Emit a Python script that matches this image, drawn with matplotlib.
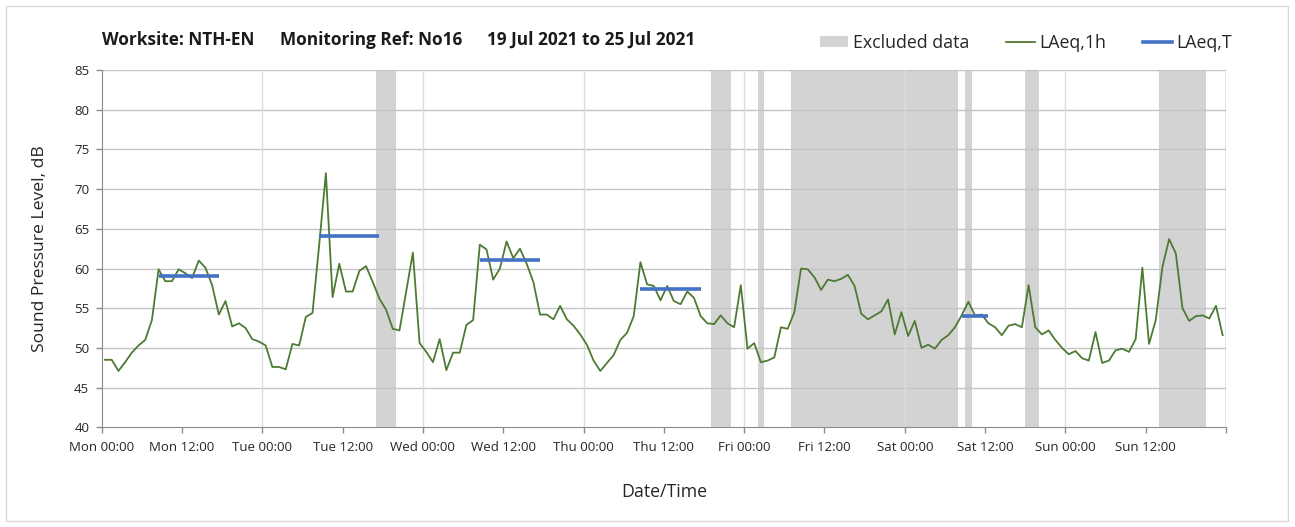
import numpy as np
import matplotlib
matplotlib.use("Agg")
import matplotlib.pyplot as plt
from matplotlib.patches import Patch, Rectangle
from matplotlib.lines import Line2D

# ---------------- data ----------------
days = ["Mon", "Tue", "Wed", "Thu", "Fri", "Sat", "Sun"]

# hourly LAeq,1h values (dB), Mon 00:00 .. Sun 23:00
laeq_1h = [
    48.5, 48.5, 47.1, 48.2, 49.4, 50.3, 51.0, 53.5, 59.9, 58.4, 58.4, 59.9,
    59.4, 58.8, 61.0, 60.1, 57.9, 54.2, 55.9, 52.7, 53.1, 52.5, 51.1, 50.8,
    50.3, 47.6, 47.6, 47.3, 50.5, 50.3, 53.9, 54.4, 63.0, 72.0, 56.4, 60.6,
    57.1, 57.1, 59.7, 60.3, 58.3, 56.2, 54.8, 52.4, 52.2, 57.1, 62.0, 50.6,
    49.5, 48.2, 51.1, 47.2, 49.4, 49.4, 52.9, 53.5, 63.0, 62.4, 58.6, 60.0,
    63.4, 61.3, 62.5, 60.6, 58.3, 54.2, 54.2, 53.6, 55.3, 53.6, 52.8, 51.7,
    50.4, 48.4, 47.1, 48.1, 49.1, 51.0, 51.9, 54.0, 60.8, 58.0, 57.8, 56.0,
    57.8, 55.9, 55.5, 57.1, 56.3, 54.0, 53.1, 53.0, 54.1, 53.1, 52.6, 57.9,
    49.9, 50.6, 48.2, 48.4, 48.8, 52.6, 52.4, 54.5, 60.0, 59.9, 58.9, 57.3,
    58.6, 58.4, 58.7, 59.2, 57.8, 54.3, 53.6, 54.1, 54.6, 56.1, 51.7, 54.5,
    51.5, 53.4, 50.0, 50.4, 49.9, 51.0, 51.6, 52.6, 54.1, 55.8, 54.1, 54.2,
    53.1, 52.6, 51.6, 52.8, 53.0, 52.6, 57.9, 52.6, 51.7, 52.2, 51.0, 50.0,
    49.2, 49.6, 48.7, 48.4, 52.0, 48.1, 48.4, 49.7, 49.9, 49.5, 51.1, 60.1,
    50.5, 53.5, 60.2, 63.7, 61.9, 55.0, 53.4, 54.0, 54.1, 53.7, 55.3, 51.6,
]

# LAeq,T periods (first hour, last hour, level)
laeq_t_first = [8, 32, 56, 80, 128]
laeq_t_last = [17, 41, 65, 89, 132]
laeq_t_level = [59.0, 64.1, 61.1, 57.4, 54.0]

# excluded data periods (start hour, end hour)
excl_start = [41, 91, 98, 103, 129, 138, 158]
excl_end = [44, 94, 99, 128, 130, 140, 165]

# ---------------- style ----------------
FONT = ["Open Sans", "DejaVu Sans"]
plt.rcParams["font.family"] = FONT
GREEN = "#4e7a33"
BLUE = "#4472c4"
GREY = "#d3d3d3"

W, H = 1295, 527
fig = plt.figure(figsize=(W / 100, H / 100), dpi=100)
fig.patch.set_facecolor("white")
fig.patches.append(Rectangle((6 / W, 6 / H), (1288 - 6) / W, (521 - 6) / H,
                             transform=fig.transFigure, fill=False,
                             edgecolor="#d9d9d9", linewidth=1.0))

L, R, T, B = 101.7, 1226, 70, 427.3
ax = fig.add_axes([L / W, 1 - B / H, (R - L) / W, (B - T) / H])

n = len(laeq_1h)
x = np.arange(n) + 0.5

for s, e in zip(excl_start, excl_end):
    ax.axvspan(s, e, color=GREY, zorder=0.3, linewidth=0)

ax.plot(x, laeq_1h, color=GREEN, linewidth=1.3, zorder=3)

for f, l, v in zip(laeq_t_first, laeq_t_last, laeq_t_level):
    ax.plot([f + 0.5, l + 0.5], [v, v], color=BLUE, linewidth=2.6,
            solid_capstyle="butt", zorder=4)

ax.set_xlim(0, 168)
ax.set_ylim(40, 85)
ax.set_yticks(np.arange(40, 86, 5))
ax.set_xticks(np.arange(0, 169, 12))
labels = []
for h in range(0, 169, 12):
    if h >= 168:
        labels.append("")
    else:
        labels.append(f"{days[h // 24]} {h % 24:02d}:00")
ax.set_xticklabels(labels)

ax.set_axisbelow(True)
for yv in np.arange(45, 86, 5):
    ax.axhline(yv, color="#c4c4c4", linewidth=1.0, zorder=0.5)
for xv in range(24, 169, 24):
    ax.axvline(xv, color="#dcdcdc", linewidth=1.0, zorder=0.5)

for side in ["top", "right"]:
    ax.spines[side].set_visible(False)
ax.spines["left"].set_color("#8c8c8c")
ax.spines["bottom"].set_color("#8c8c8c")
ax.axvline(168, color="#a6a6a6", linewidth=1.0, zorder=0.6)

ax.tick_params(axis="both", colors="#8c8c8c", labelcolor="#262626",
               labelsize=9.5, length=4, width=1)
ax.tick_params(axis="x", pad=6)
ax.tick_params(axis="y", pad=5)

ax.set_ylabel("Sound Pressure Level, dB", fontsize=12.6, color="#262626",
              labelpad=19)
ax.set_xlabel("Date/Time", fontsize=12.8, color="#262626", labelpad=21)

# title pieces
TS = 12.4
fig.text(102 / W, 1 - 40 / H, "Worksite: NTH-EN", fontsize=TS,
         fontweight="bold", color="#1a1a1a", va="center", ha="left")
fig.text(280 / W, 1 - 40 / H, "Monitoring Ref: No16", fontsize=TS,
         fontweight="bold", color="#1a1a1a", va="center", ha="left")
fig.text(487 / W, 1 - 40 / H, "19 Jul 2021 to 25 Jul 2021", fontsize=TS,
         fontweight="bold", color="#1a1a1a", va="center", ha="left")

handles = [Patch(facecolor=GREY, edgecolor="none", label="Excluded data"),
           Line2D([], [], color=GREEN, linewidth=1.3, label="LAeq,1h"),
           Line2D([], [], color=BLUE, linewidth=2.6, label="LAeq,T")]
fig.legend(handles=handles, loc="center right",
           bbox_to_anchor=(1248 / W, 1 - 43 / H), ncol=3, frameon=False,
           fontsize=12.8, handlelength=1.6, handleheight=0.55,
           handletextpad=0.25, columnspacing=2.1, labelcolor="#262626")

fig.savefig("out.png", dpi=100, facecolor="white")
